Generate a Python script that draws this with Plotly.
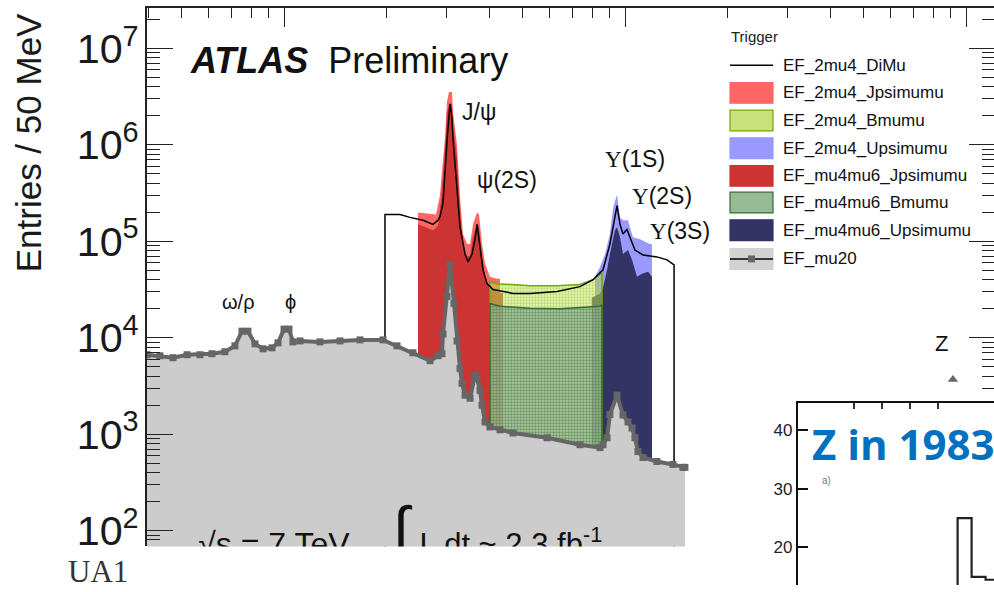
import plotly.graph_objects as go

W, H = 994, 592

# ---------------- data (dimuon mass in GeV, entries / 50 MeV) ----------------
mu20_mass = [0.396, 0.432, 0.472, 0.519, 0.566, 0.614, 0.670, 0.717, 0.752, 0.783,
             0.821, 0.867, 0.921, 0.959, 0.999, 1.033, 1.061, 1.113, 1.273, 1.458,
             1.669, 1.949, 2.142, 2.386, 2.677, 2.825, 2.902, 2.922, 3.002, 3.063,
             3.148, 3.212, 3.278, 3.323, 3.391, 3.507, 3.627, 3.677, 3.752, 3.803,
             3.881, 4.013, 4.294, 4.690, 5.898, 7.369, 8.437, 8.610, 8.846, 9.019,
             9.462, 9.852, 10.19, 10.47, 10.68, 10.90, 11.28, 12.39, 13.81, 14.77, 14.97]
mu20_entries = [6670, 6500, 6210, 6670, 6670, 6830, 7160, 8240, 11700, 11700,
                8640, 7680, 7860, 8850, 12300, 12300, 9060, 9270, 9060, 9270,
                9500, 9500, 8240, 6990, 5780, 6510, 6830, 10900, 26800, 57000,
                22700, 9270, 4790, 3370, 2540, 2360, 4060, 3790, 2850, 2000,
                1340, 1190, 1110, 1030, 918, 778, 726, 778, 918, 1600,
                2540, 1580, 1340, 1160, 918, 661, 573, 521, 486, 453, 453]

dimu_mass = [1.975, 1.975, 2.185, 2.338, 2.553, 2.732, 2.825, 2.863, 2.922, 2.961,
             3.002, 3.063, 3.105, 3.126, 3.212, 3.278, 3.391, 3.460, 3.555, 3.627,
             3.677, 3.752, 3.829, 3.933, 4.096, 4.690, 5.258, 6.310, 7.369, 8.048,
             8.610, 9.019, 9.290, 9.462, 9.656, 9.852, 10.12, 10.33, 10.68, 11.28,
             12.39, 13.26, 13.91, 13.91]
dimu_entries = [1, 1.90e5, 1.90e5, 1.77e5, 1.65e5, 1.50e5, 1.65e5, 1.80e5, 2.5e5, 5.76e5,
                1.09e6, 2.67e6, 1.88e6, 1.17e6, 3.35e5, 1.40e5, 7.39e4, 6.12e4, 7.39e4, 1.05e5,
                1.50e5, 8.12e4, 5.07e4, 3.64e4, 3.16e4, 2.88e4, 2.88e4, 3.02e4, 3.39e4, 4.00e4,
                5.07e4, 9.36e4, 1.6e5, 2.35e5, 1.50e5, 1.19e5, 1.33e5, 1.10e5, 8.12e4, 7.22e4,
                6.89e4, 6.42e4, 5.70e4, 1]

jpsi2mu4_mass = [2.469, 2.787, 2.863, 2.902, 2.961, 3.002, 3.042, 3.105, 3.126, 3.212,
                 3.278, 3.345, 3.437, 3.507, 3.579, 3.677, 3.727, 3.803, 3.881, 4.013,
                 4.207, 4.294]
jpsi2mu4_entries = [1.99e5, 1.90e5, 3.0e5, 5.3e5, 1.17e6, 2.8e6, 3.54e6, 3.54e6, 2.2e6, 9.9e5,
                    2.84e5, 1.19e5, 9.36e4, 9.36e4, 1.50e5, 1.99e5, 1.90e5, 9.36e4, 5.9e4, 4.3e4,
                    4.1e4, 4.1e4]

jpsimu4mu6_mass = [2.469, 2.732, 2.825, 2.882, 2.922, 2.961, 3.002, 3.042, 3.105, 3.126,
                   3.212, 3.278, 3.345, 3.437, 3.507, 3.579, 3.677, 3.727, 3.803, 3.881,
                   4.013, 4.207, 4.382]
jpsimu4mu6_entries = [1.50e5, 1.30e5, 1.45e5, 2.6e5, 4.5e5, 9.0e5, 2.1e6, 2.65e6, 2.65e6, 1.65e6,
                      7.4e5, 2.1e5, 8.9e4, 7.0e4, 7.0e4, 1.12e5, 1.5e5, 1.42e5, 7.0e4, 4.4e4,
                      3.2e4, 3.0e4, 2.9e4]

bmumu2mu4_mass = [4.013, 4.207, 4.690, 5.258, 6.310, 7.369, 8.048, 8.437, 8.550]
bmumu2mu4_entries = [3.82e4, 3.64e4, 3.56e4, 3.47e4, 3.47e4, 3.56e4, 4.0e4, 4.6e4, 4.7e4]

bmumumu4mu6_mass = [4.013, 4.294, 5.258, 6.440, 7.760, 8.437, 8.550]
bmumumu4mu6_entries = [2.27e4, 2.12e4, 2.02e4, 2.0e4, 2.06e4, 2.12e4, 2.2e4]

upsi2mu4_mass = [8.157, 8.437, 8.728, 9.019, 9.210, 9.462, 9.656, 9.852, 10.19, 10.54,
                 11.05, 11.82, 11.98]
upsi2mu4_entries = [4.3e4, 5.4e4, 7.39e4, 1.19e5, 2.2e5, 3.05e5, 1.77e5, 1.65e5, 1.65e5, 1.10e5,
                    1.05e5, 9.36e4, 9.36e4]

upsimu4mu6_mass = [7.980, 8.437, 8.610, 8.846, 9.019, 9.330, 9.462, 9.656, 9.852, 10.19,
                   10.47, 10.83, 11.20, 11.67, 11.98]
upsimu4mu6_entries = [2.6e4, 2.88e4, 3.3e4, 5.0e4, 7.39e4, 1.3e5, 1.40e5, 1.10e5, 7.39e4, 8.12e4,
                      6.42e4, 4.30e4, 4.61e4, 4.83e4, 4.30e4]

z_mass = [91.4]
z_entries = [3700]

# UA1 1983 inset (mass in GeV, events)
ua1_mass = [82, 87, 92, 97, 102]
ua1_events = [10, 25, 15, 14.5, 14.5]

legend_names = ["EF_2mu4_DiMu", "EF_2mu4_Jpsimumu", "EF_2mu4_Bmumu", "EF_2mu4_Upsimumu",
                "EF_mu4mu6_Jpsimumu", "EF_mu4mu6_Bmumu", "EF_mu4mu6_Upsimumu", "EF_mu20"]

# base levels used to close the filled histograms (both lie below what is visible)
BASE_TRIGGERS = 200   # hidden under the EF_mu20 band
BASE_MU20 = 1         # below the axis range

# ---------------- styles ----------------
C_LRED = "rgb(255,102,102)"
C_DRED = "rgb(204,51,51)"
C_LBLUE = "rgb(153,153,255)"
C_NAVY = "rgb(51,51,102)"
C_GRAY = "rgb(204,204,204)"
C_DGRAY = "rgb(102,102,102)"
SANS = "Liberation Sans, Arial, sans-serif"
SERIF = "Liberation Serif, Times New Roman, serif"


def px(x):
    return x / W


def py(y):
    return 1 - y / H


def closed(xs, ys, base):
    return [xs[0]] + list(xs) + [xs[-1]], [base] + list(ys) + [base]


fig = go.Figure()


def area(xs, ys, name, color, pattern=None, line=None, lw=1.5):
    cx, cy = closed(xs, ys, BASE_TRIGGERS)
    kw = dict(x=cx, y=cy, name=name, mode="lines", fill="toself",
              line=dict(color=line or color, width=lw if line else 0),
              fillcolor=color, xaxis="x", yaxis="y", hoverinfo="skip")
    if pattern:
        kw["fillpattern"] = pattern
    fig.add_trace(go.Scatter(**kw))


area(jpsi2mu4_mass, jpsi2mu4_entries, legend_names[1], C_LRED)
area(jpsimu4mu6_mass, jpsimu4mu6_entries, legend_names[4], C_DRED)
area(upsi2mu4_mass, upsi2mu4_entries, legend_names[3], C_LBLUE)
area(upsimu4mu6_mass, upsimu4mu6_entries, legend_names[6], C_NAVY)
area(bmumu2mu4_mass, bmumu2mu4_entries, legend_names[2], "rgba(200,228,100,0.45)",
     pattern=dict(shape=".", fgcolor="rgb(140,188,30)", bgcolor="rgba(200,230,100,0.45)",
                  size=3, solidity=0.45),
     line="rgb(110,170,0)")
area(bmumumu4mu6_mass, bmumumu4mu6_entries, legend_names[5], "rgba(160,195,160,0.7)",
     pattern=dict(shape=".", fgcolor="rgb(50,95,60)", bgcolor="rgba(160,195,160,0.7)",
                  size=3, solidity=0.55),
     line="rgb(50,110,50)")

fig.add_trace(go.Scatter(x=dimu_mass, y=dimu_entries, name=legend_names[0], mode="lines",
                         line=dict(color="black", width=1.5), xaxis="x", yaxis="y"))

gx, gy = closed(mu20_mass, mu20_entries, BASE_MU20)
fig.add_trace(go.Scatter(x=gx, y=gy, name=legend_names[7], mode="lines",
                         fill="toself", fillcolor=C_GRAY, line=dict(width=0),
                         xaxis="x", yaxis="y", hoverinfo="skip", showlegend=False))
fig.add_trace(go.Scatter(x=mu20_mass, y=mu20_entries, name=legend_names[7], mode="lines+markers",
                         line=dict(color=C_DGRAY, width=4),
                         marker=dict(symbol="square", size=7, color=C_DGRAY),
                         xaxis="x", yaxis="y"))

fig.add_trace(go.Scatter(x=z_mass, y=z_entries, name="EF_mu20 (Z)", mode="markers",
                         marker=dict(symbol="triangle-up", size=9, color=C_DGRAY),
                         xaxis="x", yaxis="y"))

# bottom (clipped) luminosity text, drawn inside the plot so it is cut by the axes
fig.add_trace(go.Scatter(x=[0.933], y=[67], mode="text", cliponaxis=True,
                         text=["√s = 7 TeV"], textposition="middle center",
                         textfont=dict(family=SANS, size=32, color="#111"),
                         xaxis="x", yaxis="y", hoverinfo="skip"))
fig.add_trace(go.Scatter(x=[2.20], y=[93], mode="text", cliponaxis=True,
                         text=["∫"], textposition="middle center",
                         textfont=dict(family=SANS, size=60, color="#111"),
                         xaxis="x", yaxis="y", hoverinfo="skip"))
fig.add_trace(go.Scatter(x=[4.62], y=[67], mode="text", cliponaxis=True,
                         text=["L dt ~ 2.3 fb<sup>-1</sup>"],
                         textposition="middle center",
                         textfont=dict(family=SANS, size=31, color="#111"),
                         xaxis="x", yaxis="y", hoverinfo="skip"))

# empty trace for right-hand tick axis
fig.add_trace(go.Scatter(x=[], y=[], xaxis="x", yaxis="y3", showlegend=False))

# UA1 inset histogram
fig.add_trace(go.Scatter(x=ua1_mass, y=ua1_events, mode="lines", line_shape="hv",
                         line=dict(color="#222", width=2.2), xaxis="x2", yaxis="y2",
                         name="UA1"))

AX = "#222"
fig.update_layout(
    width=W, height=H, margin=dict(l=0, r=0, t=0, b=0),
    paper_bgcolor="white", plot_bgcolor="rgba(0,0,0,0)", showlegend=False,
    xaxis=dict(type="log", range=[-0.4023, 2.0815], domain=[px(147), 1], anchor="y",
               side="top", showline=True, linecolor=AX, linewidth=1.5,
               ticks="inside", ticklen=19, tickwidth=1.3, tickcolor=AX, dtick=1,
               showticklabels=False, showgrid=False, zeroline=False,
               minor=dict(ticks="inside", ticklen=10, tickwidth=1.3, tickcolor=AX,
                          dtick="D1", showgrid=False)),
    yaxis=dict(type="log", range=[1.836, 7.42], domain=[py(553), py(8)], anchor="x",
               showline=True, linecolor=AX, linewidth=1.5,
               ticks="inside", ticklen=26, tickwidth=1.3, tickcolor=AX, dtick=1,
               exponentformat="power", showgrid=False, zeroline=False,
               tickfont=dict(family=SANS, size=33, color="#1a1a1a"),
               minor=dict(ticks="inside", ticklen=13, tickwidth=1.3, tickcolor=AX,
                          dtick="D1", showgrid=False)),
    yaxis3=dict(type="log", range=[3.4036, 7.42], domain=[py(400), py(8)], anchor="x",
                side="right", showline=False, ticks="inside", ticklen=25, tickwidth=1.3,
                tickcolor=AX, dtick=1, showticklabels=False, showgrid=False, zeroline=False,
                minor=dict(ticks="inside", ticklen=12, tickwidth=1.3, tickcolor=AX,
                           dtick="D1", showgrid=False)),
    xaxis2=dict(range=[30, 100], domain=[px(798), 1], anchor="y2", side="top",
                showline=True, linecolor="#111", linewidth=2.2, ticks="inside",
                tickvals=[50, 60, 70, 80], ticklen=6, tickwidth=1.5, tickcolor="#333",
                showticklabels=False, showgrid=False, zeroline=False),
    yaxis2=dict(range=[13.61, 44.54], domain=[0, py(408)], anchor="x2",
                showline=True, linecolor="#111", linewidth=2.2, ticks="inside",
                tickvals=[20, 30, 40], ticklen=10, tickwidth=2, tickcolor="#111",
                showgrid=False, zeroline=False,
                tickfont=dict(family=SANS, size=17, color="#222")),
)

annotations = []


def ann(text, x, y, size, xanchor="center", yanchor="middle", font=SANS, color="#111", angle=0):
    annotations.append(dict(text=text, x=px(x), y=py(y), xref="paper", yref="paper",
                            xanchor=xanchor, yanchor=yanchor, showarrow=False,
                            textangle=angle, font=dict(family=font, size=size, color=color)))


ann("Entries / 50 MeV", 28, 145, 35, angle=-90, color="#1a1a1a")
ann("<b><i>ATLAS</i></b>  Preliminary", 188, 61, 36, xanchor="left", color="#111")
ann("J/ψ", 479, 113, 23)
ann("ψ(2S)", 507, 182, 23)
ann("<span style='font-family:Liberation Serif'>Υ</span>(1S)", 635, 161, 23)
ann("<span style='font-family:Liberation Serif'>Υ</span>(2S)", 662, 198, 23)
ann("<span style='font-family:Liberation Serif'>Υ</span>(3S)", 680, 234, 23)
ann("ω/ρ", 238, 306, 20)
ann("ϕ", 290, 306, 20)
ann("Z", 941, 348, 22)
ann("UA1", 98, 578, 31, font=SERIF, color="#333")
ann("a)", 826, 486, 10, color="#777")
ann("<b>Z in 1983</b>", 903, 449, 42, font="Open Sans, sans-serif", color="rgb(0,112,192)")

# ---- legend (drawn as a boxed key) ----
shapes = []
ann("Trigger", 729, 37, 15, xanchor="left", color="#222")
rows = [66, 94, 122, 150, 178, 205, 233, 262]
swatch = {
    1: (C_LRED, C_LRED),
    2: ("rgb(200,225,125)", "rgb(110,170,0)"),
    3: (C_LBLUE, C_LBLUE),
    4: (C_DRED, C_DRED),
    5: ("rgb(150,185,150)", "rgb(50,110,50)"),
    6: (C_NAVY, C_NAVY),
    7: ("rgb(210,210,210)", "rgb(210,210,210)"),
}
for i, (name, yc) in enumerate(zip(legend_names, rows)):
    ann(name, 781, yc, 17, xanchor="left", color="#111")
    if i == 0:
        shapes.append(dict(type="line", xref="paper", yref="paper", x0=px(730), x1=px(773),
                           y0=py(yc), y1=py(yc), line=dict(color="black", width=1.5)))
    else:
        fc, lc = swatch[i]
        shapes.append(dict(type="rect", xref="paper", yref="paper", x0=px(730), x1=px(773),
                           y0=py(yc - 10.5), y1=py(yc + 10.5), fillcolor=fc,
                           line=dict(color=lc, width=1.2)))
    if i == 7:
        shapes.append(dict(type="line", xref="paper", yref="paper", x0=px(730), x1=px(773),
                           y0=py(yc), y1=py(yc), line=dict(color="black", width=1.5)))
        shapes.append(dict(type="rect", xref="paper", yref="paper", x0=px(748), x1=px(755),
                           y0=py(yc - 3.5), y1=py(yc + 3.5), fillcolor=C_DGRAY,
                           line=dict(width=0)))

fig.update_layout(annotations=annotations, shapes=shapes)
fig.write_html("out.html")
